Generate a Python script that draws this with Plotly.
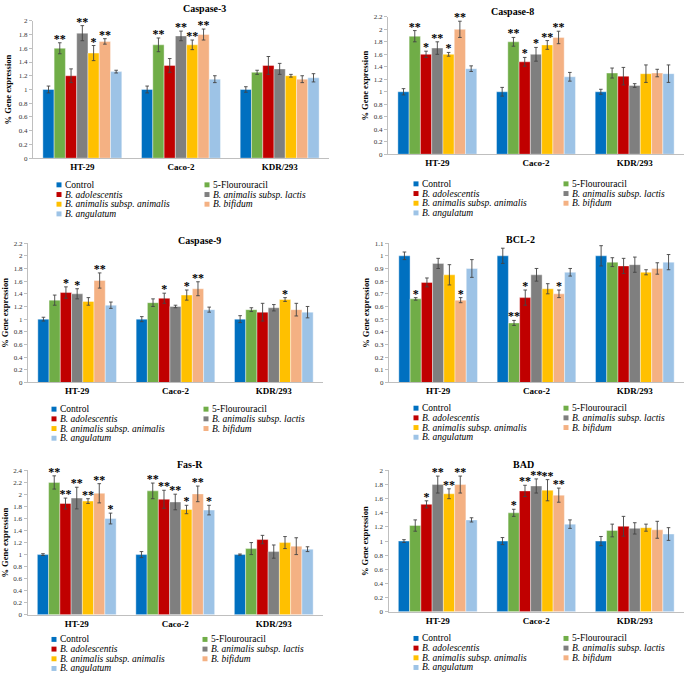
import plotly.graph_objects as go

categories = ["HT-29", "Caco-2", "KDR/293"]
series = ["Control", "5-Flourouracil", "B. adolescentis", "B. animalis subsp. lactis",
          "B. animalis subsp. animalis", "B. bifidum", "B. angulatum"]
colors = ["#0070C0", "#70AD47", "#C00000", "#7F7F7F", "#FFC000", "#F4B183", "#9DC3E6"]
genes = ["Caspase-3", "Caspase-8", "Caspase-9", "BCL-2", "Fas-R", "BAD"]

# values per series: [HT-29, Caco-2, KDR/293]
casp3_mean = [[1.0, 1.0, 1.0], [1.60, 1.65, 1.25], [1.20, 1.35, 1.35], [1.82, 1.78, 1.30],
              [1.53, 1.65, 1.20], [1.70, 1.80, 1.15], [1.26, 1.15, 1.17]]
casp3_err = [[0.05, 0.05, 0.04], [0.08, 0.10, 0.03], [0.10, 0.10, 0.13], [0.11, 0.07, 0.08],
             [0.11, 0.07, 0.02], [0.04, 0.08, 0.05], [0.02, 0.05, 0.06]]
casp3_sig = [["", "", ""], ["**", "**", ""], ["", "", ""], ["**", "**", ""],
             ["*", "**", ""], ["**", "**", ""], ["", "", ""]]

casp8_mean = [[1.0, 1.0, 1.0], [1.89, 1.80, 1.30], [1.60, 1.48, 1.25], [1.70, 1.60, 1.10],
              [1.60, 1.75, 1.29], [2.00, 1.87, 1.30], [1.37, 1.24, 1.29]]
casp8_err = [[0.05, 0.07, 0.04], [0.09, 0.07, 0.08], [0.05, 0.07, 0.14], [0.10, 0.11, 0.03],
             [0.03, 0.07, 0.14], [0.13, 0.10, 0.06], [0.045, 0.07, 0.14]]
casp8_sig = [["", "", ""], ["**", "**", ""], ["*", "*", ""], ["**", "*", ""],
             ["*", "**", ""], ["**", "**", ""], ["", "", ""]]

casp9_mean = [[1.0, 1.0, 1.0], [1.30, 1.26, 1.15], [1.42, 1.33, 1.11], [1.40, 1.20, 1.18],
              [1.28, 1.38, 1.31], [1.61, 1.48, 1.15], [1.22, 1.15, 1.11]]
casp9_err = [[0.03, 0.04, 0.055], [0.08, 0.06, 0.03], [0.09, 0.08, 0.14], [0.08, 0.02, 0.05],
             [0.06, 0.08, 0.03], [0.12, 0.11, 0.10], [0.05, 0.04, 0.09]]
casp9_sig = [["", "", ""], ["", "", ""], ["*", "*", ""], ["*", "", ""],
             ["", "*", "*"], ["**", "**", ""], ["", "", ""]]

bcl2_mean = [[1.0, 1.0, 1.0], [0.66, 0.47, 0.95], [0.79, 0.67, 0.92], [0.94, 0.85, 0.93],
             [0.85, 0.74, 0.87], [0.65, 0.70, 0.90], [0.90, 0.87, 0.95]]
bcl2_err = [[0.03, 0.06, 0.08], [0.01, 0.02, 0.035], [0.035, 0.06, 0.06], [0.04, 0.05, 0.06],
            [0.08, 0.04, 0.02], [0.02, 0.03, 0.045], [0.07, 0.03, 0.06]]
bcl2_sig = [["", "", ""], ["*", "**", ""], ["", "*", ""], ["", "", ""],
            ["", "", ""], ["*", "*", ""], ["", "", ""]]

fasr_mean = [[1.0, 1.0, 1.0], [2.20, 2.06, 1.10], [1.85, 1.92, 1.25], [1.94, 1.875, 1.05],
             [1.89, 1.75, 1.20], [2.02, 2.01, 1.14], [1.60, 1.74, 1.09]]
fasr_err = [[0.015, 0.05, 0.01], [0.11, 0.13, 0.10], [0.09, 0.15, 0.07], [0.18, 0.13, 0.11],
            [0.04, 0.07, 0.10], [0.16, 0.13, 0.14], [0.09, 0.08, 0.04]]
fasr_sig = [["", "", ""], ["**", "**", ""], ["**", "**", ""], ["**", "**", ""],
            ["**", "*", ""], ["**", "**", ""], ["*", "*", ""]]

bad_mean = [[1.0, 1.0, 1.0], [1.22, 1.40, 1.15], [1.52, 1.71, 1.21], [1.80, 1.78, 1.18],
            [1.67, 1.72, 1.19], [1.80, 1.65, 1.16], [1.30, 1.24, 1.10]]
bad_err = [[0.02, 0.05, 0.065], [0.08, 0.05, 0.09], [0.05, 0.08, 0.14], [0.12, 0.10, 0.08],
           [0.07, 0.15, 0.05], [0.12, 0.10, 0.12], [0.03, 0.06, 0.09]]
bad_sig = [["", "", ""], ["", "*", ""], ["*", "**", ""], ["**", "**", ""],
           ["**", "**", ""], ["**", "**", ""], ["", "", ""]]

y_max = [2.0, 2.2, 2.2, 1.1, 2.4, 2.0]
y_step = [0.2, 0.2, 0.2, 0.1, 0.2, 0.2]

means = [casp3_mean, casp8_mean, casp9_mean, bcl2_mean, fasr_mean, bad_mean]
errs = [casp3_err, casp8_err, casp9_err, bcl2_err, fasr_err, bad_err]
sigs = [casp3_sig, casp8_sig, casp9_sig, bcl2_sig, fasr_sig, bad_sig]

# ---------- layout geometry (pixels) ----------
W, H = 685, 678
# (x0, x1, ytop, ybottom)
boxes = [(33, 329, 17, 156), (388, 684, 13, 152),
         (28, 323, 242, 383), (389, 684, 242, 383),
         (27.5, 323, 472, 618), (388.5, 684, 472, 615)]
title_y = [5, 8, 239, 238, 466, 466]
ytitle_x = [8, 365, 5, 366, 5, 365]
legend_pos = [  # col1 marker x, col2 marker x, first row y
    (59, 207, 183), (416, 566, 182), (54, 206, 410),
    (416, 566, 409), (54, 205, 643), (416, 566, 642)]
row_step = 9.8
star_gap_px = 3.0

FONT = "Liberation Serif"


def px(x):
    return x / W


def py(y):
    return 1 - y / H


def label(name):
    return f"<i>{name}</i>" if name.startswith("B.") else name


fig = go.Figure()
layout = dict(width=W, height=H, autosize=False,
              margin=dict(l=0, r=0, t=0, b=0),
              paper_bgcolor="white", plot_bgcolor="white",
              barmode="group", bargap=0.2, bargroupgap=0.0,
              scattermode="group", scattergap=0.2,
              showlegend=False, font=dict(family=FONT, color="#000"))
annotations = []
shapes = []

for p in range(6):
    xa = "x" if p == 0 else f"x{p+1}"
    ya = "y" if p == 0 else f"y{p+1}"
    x0, x1, yt, yb = boxes[p]
    gap = y_max[p] * star_gap_px / (yb - yt)
    for s in range(7):
        fig.add_trace(go.Bar(
            x=categories, y=means[p][s], name=label(series[s]),
            marker=dict(color=colors[s], line=dict(color="white", width=0.4)),
            error_y=dict(type="data", array=errs[p][s], color="#444444",
                         thickness=0.9, width=1.8),
            xaxis=xa, yaxis=ya, offsetgroup=str(s), showlegend=False))
    for s in range(7):
        tops = [m + e + gap for m, e in zip(means[p][s], errs[p][s])]
        fig.add_trace(go.Scatter(
            x=categories, y=tops, mode="text", text=sigs[p][s],
            textposition="middle center",
            marker=dict(color="#000000"),
            textfont=dict(family=FONT, size=12, color="#000000", weight="bold"),
            xaxis=xa, yaxis=ya, offsetgroup=str(s), showlegend=False,
            hoverinfo="skip", cliponaxis=False))

    layout["xaxis" if p == 0 else f"xaxis{p+1}"] = dict(
        domain=[px(x0), px(x1)], anchor=ya, type="category",
        showline=True, linecolor="#BFBFBF", linewidth=1, ticks="",
        tickvals=categories, ticktext=[f"<b>{c}</b>" for c in categories],
        tickfont=dict(family=FONT, size=9, color="#000"), showgrid=False)
    layout["yaxis" if p == 0 else f"yaxis{p+1}"] = dict(
        domain=[py(yb), py(yt)], anchor=xa, range=[0, y_max[p]],
        dtick=y_step[p], tick0=0, showline=True, linecolor="#BFBFBF",
        linewidth=1, ticks="outside", ticklen=3, tickcolor="#BFBFBF",
        tickfont=dict(family=FONT, size=7, color="#333"),
        showgrid=False, zeroline=False)

    annotations.append(dict(
        x=px((x0 + x1) / 2), y=py(title_y[p]), xref="paper", yref="paper",
        text=f"<b>{genes[p]}</b>", showarrow=False, yanchor="middle",
        font=dict(family=FONT, size=10, color="#000")))
    annotations.append(dict(
        x=px(ytitle_x[p]), y=py((yt + yb) / 2), xref="paper", yref="paper",
        text="<b>% Gene expression</b>", showarrow=False, textangle=-90,
        xanchor="center", yanchor="middle",
        font=dict(family=FONT, size=8.5, color="#000")))

    c1, c2, r0 = legend_pos[p]
    for s in range(7):
        col = s % 2
        row = s // 2
        mx = c1 if col == 0 else c2
        my = r0 + row * row_step
        shapes.append(dict(type="rect", xref="paper", yref="paper",
                           x0=px(mx - 2.5), x1=px(mx + 2.5),
                           y0=py(my + 2.5), y1=py(my - 2.5),
                           fillcolor=colors[s], line=dict(width=0)))
        annotations.append(dict(
            x=px(mx + 4), y=py(my), xref="paper", yref="paper",
            text=label(series[s]), showarrow=False, xanchor="left",
            yanchor="middle", font=dict(family=FONT, size=9.5, color="#000")))

layout["annotations"] = annotations
layout["shapes"] = shapes
fig.update_layout(**layout)

fig.write_html("out.html", post_script="document.body.style.margin='0';",
               config={"displayModeBar": False})
